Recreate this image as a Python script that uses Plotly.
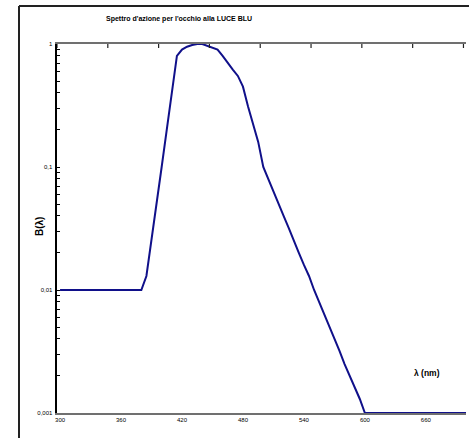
import plotly.graph_objects as go

# Blue-light hazard action spectrum B(lambda)
wavelength = [300, 305, 310, 315, 320, 325, 330, 335, 340, 345, 350, 355, 360, 365, 370, 375, 380,
              385, 390, 395, 400, 405, 410, 415, 420, 425, 430, 435, 440, 445, 450, 455, 460,
              465, 470, 475, 480, 485, 490, 495, 500, 505, 510, 515, 520, 525, 530, 535, 540,
              545, 550, 555, 560, 565, 570, 575, 580, 585, 590, 595, 600, 610, 620, 630, 640,
              650, 660, 670, 680, 690, 700]
b_lambda = [0.01] * 17 + [
    0.013, 0.025, 0.05, 0.10, 0.20, 0.40, 0.80, 0.90, 0.95, 0.98, 1.00, 1.00, 0.97, 0.94,
    0.90, 0.80, 0.70, 0.62, 0.55, 0.45, 0.31, 0.22, 0.16, 0.10, 0.079, 0.063, 0.050, 0.040,
    0.032, 0.025, 0.020, 0.016, 0.013, 0.010, 0.008, 0.0063, 0.005, 0.004, 0.0032, 0.0025,
    0.0020, 0.0016, 0.0013, 0.0010] + [0.001] * 10

x_ticks = [300, 360, 420, 480, 540, 600, 660]
y_major = [1, 0.1, 0.01, 0.001]
y_major_text = ["1", "0,1", "0,01", "0,001"]

title_text = "Spettro d'azione per l'occhio alla LUCE BLU"
y_title = "B(λ)"
x_title = "λ (nm)"

FONT = "Liberation Sans, Arial, sans-serif"
XR = [297, 699.5]

# y tick positions: decades plus minor 2..9
yvals, ytext = [], []
for d in [0.001, 0.01, 0.1]:
    for m in range(1, 10):
        yvals.append(d * m)
        ytext.append((y_major_text[y_major.index(d)] + " ") if m == 1 else "")
yvals.append(1)
ytext.append("1 ")

W, H = 469, 438
ml, mr, mt, mb = 57, 3, 44, 25
pw, ph = W - ml - mr, H - mt - mb


def px(x):
    return (x - ml) / pw


def py(y):
    return 1 - (y - mt) / ph


fig = go.Figure()
fig.add_trace(go.Scatter(x=wavelength, y=b_lambda, mode="lines",
                         line=dict(color="#10108a", width=2), showlegend=False,
                         hoverinfo="x+y"))

shapes = [
    # outer chart frame (left and top edges)
    dict(type="line", xref="paper", yref="paper", x0=px(19), x1=px(19),
         y0=-0.1, y1=py(6), line=dict(color="#222222", width=2), layer="above"),
    dict(type="line", xref="paper", yref="paper", x0=px(19), x1=1.05,
         y0=py(6), y1=py(6), line=dict(color="#222222", width=2), layer="above"),
]
# short tick marks hanging from the top edge of the plot area
for k in range(9):
    xv = XR[0] + 50 * k
    shapes.append(dict(type="line", xref="x", yref="paper", x0=xv, x1=xv,
                       y0=1, y1=1 - 4 / ph, line=dict(color="#222222", width=1.2),
                       layer="above"))

fig.update_layout(
    width=W, height=H,
    margin=dict(l=ml, r=mr, t=mt, b=mb),
    plot_bgcolor="white",
    font=dict(family=FONT, color="black"),
    xaxis=dict(range=XR, tickvals=x_ticks, ticks="", showgrid=False,
               zeroline=False, showline=True, linecolor="#707070", linewidth=1.5,
               mirror=True, tickfont=dict(size=6)),
    yaxis=dict(type="log", range=[-3, 0], tickvals=yvals, ticktext=ytext,
               ticks="inside", ticklen=3, tickcolor="black", showgrid=False,
               zeroline=False, showline=True, linecolor="black", linewidth=1.5,
               tickfont=dict(size=6)),
    shapes=shapes,
    annotations=[
        dict(text="<b>" + title_text + "</b>", xref="paper", yref="paper",
             x=px(179), y=py(19), showarrow=False,
             font=dict(size=7), xanchor="center", yanchor="middle"),
        dict(text="<b>" + y_title + "</b>", xref="paper", yref="paper",
             x=px(40), y=py(227), showarrow=False, textangle=-90,
             font=dict(size=10), xanchor="center", yanchor="middle"),
        dict(text="<b>" + x_title + "</b>", xref="paper", yref="paper",
             x=px(427), y=py(373), showarrow=False,
             font=dict(size=8.5), xanchor="center", yanchor="middle"),
    ],
)

fig.write_html("out.html")
